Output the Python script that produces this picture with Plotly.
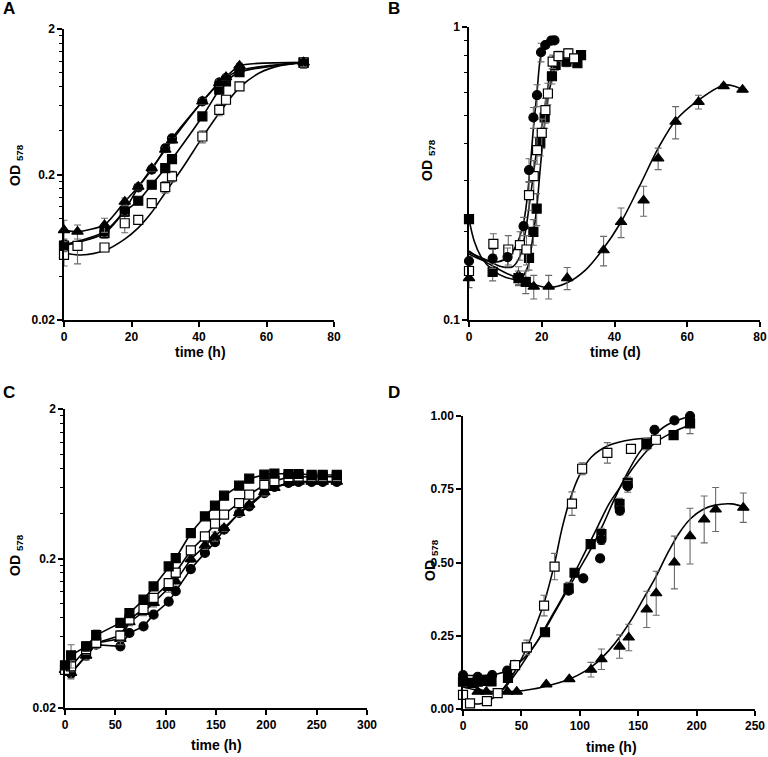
import plotly.graph_objects as go

# ---------------- Panel A (log y, time h) ----------------
A_t13 = [0, 4, 12, 18, 22, 26, 30, 32, 41, 46, 48, 52, 71]
A_t12 = [0, 12, 18, 22, 26, 30, 32, 41, 46, 48, 52, 71]
A_tri = [0.083, 0.081, 0.090, 0.130, 0.165, 0.221, 0.296, 0.343, 0.636, 0.850, 0.935, 1.12, 1.18]
A_tri_err = [0.014, 0.009, 0.010, 0.008, 0.008, 0.010, 0.012, 0.015, 0.03, 0.04, 0.04, 0.04, 0.08]
A_circ = [0.066, 0.081, 0.114, 0.163, 0.216, 0.303, 0.355, 0.636, 0.857, 0.92, 1.04, 1.18]
A_circ_err = [0.006, 0.006, 0.008, 0.008, 0.012, 0.015, 0.015, 0.03, 0.04, 0.05, 0.04, 0.08]
A_sqf = [0.065, 0.079, 0.111, 0.132, 0.170, 0.221, 0.255, 0.501, 0.765, 0.873, 1.01, 1.18]
A_sqf_err = [0.006, 0.006, 0.008, 0.006, 0.008, 0.010, 0.012, 0.02, 0.04, 0.04, 0.04, 0.08]
A_sqo = [0.056, 0.0646, 0.063, 0.0925, 0.0975, 0.127, 0.164, 0.194, 0.365, 0.557, 0.653, 0.807, 1.17]
A_sqo_err = [0.009, 0.016, 0.004, 0.013, 0.005, 0.006, 0.015, 0.016, 0.035, 0.05, 0.04, 0.03, 0.10]
A_fit_t = [0, 5, 12, 18, 22, 26, 30, 35, 41, 46, 52, 58, 64, 71]
A_fit_sqo = [0.058, 0.056, 0.060, 0.072, 0.086, 0.110, 0.150, 0.220, 0.360, 0.530, 0.790, 1.00, 1.12, 1.17]

# ---------------- Panel B (log y, time d) ----------------
B_tri_t = [0, 13.6, 17.8, 21.9, 27, 37, 41.8, 48, 52, 56.8, 63.1, 70, 75.2]
B_tri = [0.139, 0.142, 0.130, 0.130, 0.139, 0.173, 0.216, 0.256, 0.356, 0.475, 0.555, 0.628, 0.611]
B_tri_err = [0.010, 0.010, 0.012, 0.012, 0.012, 0.020, 0.025, 0.030, 0.030, 0.060, 0.030, 0.010, 0.005]
B_circ_t = [0, 6.5, 10.6, 15, 16.5, 17.7, 18.7, 19.8, 21, 22.6, 23.5]
B_circ = [0.159, 0.162, 0.164, 0.209, 0.325, 0.491, 0.585, 0.82, 0.868, 0.898, 0.90]
B_circ_err = [0.005, 0.012, 0.012, 0.015, 0.03, 0.04, 0.05, 0.06, 0.01, 0.005, 0.005]
B_sqf_t = [0, 6.5, 13.6, 15.6, 16.5, 17.7, 18.6, 19.6, 20.8, 22.8, 23.8, 26.8, 29.8, 30.8]
B_sqf = [0.221, 0.146, 0.139, 0.135, 0.163, 0.200, 0.240, 0.403, 0.491, 0.679, 0.742, 0.762, 0.752, 0.802]
B_sqf_err = [0.005, 0.010, 0.008, 0.012, 0.015, 0.020, 0.030, 0.040, 0.040, 0.04, 0.03, 0.03, 0.01, 0.01]
B_sqo_t = [0, 6.7, 10.8, 14, 15.8, 16.5, 17.8, 18.7, 20, 21, 21.7, 23, 24.6, 27.3, 28.9]
B_sqo = [0.147, 0.182, 0.174, 0.180, 0.174, 0.267, 0.310, 0.380, 0.435, 0.520, 0.593, 0.762, 0.796, 0.813, 0.782]
B_sqo_err = [0.005, 0.015, 0.020, 0.020, 0.020, 0.030, 0.040, 0.040, 0.050, 0.050, 0.050, 0.040, 0.03, 0.03, 0.01]
B_fit_tri_t = [0, 3, 6.5, 10, 14, 18, 22, 27, 32, 36.6, 41.8, 46.8, 52, 56.8, 63, 70, 73, 75.2]
B_fit_tri = [0.172, 0.162, 0.153, 0.145, 0.138, 0.132, 0.129, 0.134, 0.148, 0.173, 0.216, 0.285, 0.385, 0.480, 0.562, 0.633, 0.628, 0.611]
B_fit_circ_t = [0, 4, 8, 11, 13, 15, 16.5, 17.7, 18.7, 19.6, 20.5]
B_fit_circ = [0.168, 0.160, 0.158, 0.165, 0.180, 0.215, 0.300, 0.450, 0.600, 0.780, 0.860]
B_fit_sqo_t = [0, 5, 9, 12, 14, 15.5, 17, 18.5, 20, 21, 22, 23]
B_fit_sqo = [0.170, 0.160, 0.152, 0.152, 0.165, 0.200, 0.270, 0.370, 0.460, 0.550, 0.660, 0.750]
B_fit_sqf_t = [0, 1.5, 3.5, 6.5, 10, 14, 16, 17.5, 18.6, 19.6, 20.8, 22, 23.5]
B_fit_sqf = [0.221, 0.185, 0.163, 0.148, 0.140, 0.138, 0.150, 0.190, 0.240, 0.330, 0.470, 0.600, 0.720]

# ---------------- Panel C (log y, time h) ----------------
C_t = [0, 6, 21, 31, 55, 64, 78, 88, 103, 110, 125, 139, 149, 158, 173, 183, 198, 208, 222, 232, 245, 256, 270]
C_sqf = [0.0386, 0.045, 0.0517, 0.0615, 0.0741, 0.0863, 0.106, 0.130, 0.177, 0.201, 0.296, 0.383, 0.451,
         0.526, 0.614, 0.684, 0.727, 0.740, 0.735, 0.735, 0.726, 0.724, 0.724]
C_sqf_err = [0.002, 0.008, 0.004, 0.005, 0.005, 0.004, 0.004, 0.005, 0.006, 0.006, 0.008, 0.01, 0.01,
             0.01, 0.01, 0.01, 0.01, 0.01, 0.01, 0.01, 0.01, 0.01, 0.01]
C_sqo = [0.036, 0.038, 0.0496, 0.0545, 0.061, 0.078, 0.0919, 0.109, 0.137, 0.161, 0.227, 0.281, 0.342,
         0.393, 0.470, 0.535, 0.621, 0.660, 0.700, 0.705, 0.705, 0.705, 0.705]
C_sqo_err = [0.002, 0.003, 0.004, 0.004, 0.005, 0.005, 0.005, 0.006, 0.008, 0.008, 0.01, 0.01, 0.015,
             0.015, 0.02, 0.02, 0.02, 0.015, 0.01, 0.01, 0.01, 0.01, 0.01]
C_tri = [0.036, 0.0343, 0.0448, 0.0545, 0.058, 0.075, 0.088, 0.101, 0.127, 0.141, 0.198, 0.245, 0.281,
         0.320, 0.403, 0.458, 0.555, 0.593, 0.640, 0.653, 0.653, 0.653, 0.653]
C_tri_err = [0.002, 0.003, 0.003, 0.004, 0.005, 0.004, 0.005, 0.006, 0.008, 0.008, 0.01, 0.015, 0.02,
             0.015, 0.02, 0.02, 0.03, 0.02, 0.01, 0.01, 0.01, 0.01, 0.01]
C_circ = [0.036, 0.034, 0.0448, 0.053, 0.0517, 0.0635, 0.0703, 0.0842, 0.103, 0.121, 0.170, 0.218, 0.257,
          0.312, 0.403, 0.447, 0.548, 0.602, 0.640, 0.650, 0.650, 0.650, 0.650]

# ---------------- Panel D (linear y, time h) ----------------
D_sqo_t = [0, 6, 20.5, 29.7, 44.6, 54.7, 69.4, 78.4, 93.3, 102, 123.6, 143.8, 165.2]
D_sqo = [0.048, 0.019, 0.027, 0.054, 0.150, 0.210, 0.353, 0.486, 0.701, 0.820, 0.874, 0.888, 0.919]
D_sqo_err = [0.0, 0.0, 0.0, 0.0, 0.01, 0.025, 0.035, 0.045, 0.04, 0.02, 0.035, 0.01, 0.01]
D_circ_t = [0, 12.6, 25, 37.9, 44, 90.4, 103, 117.4, 118.5, 134.3, 141, 164, 181, 194.4]
D_circ = [0.116, 0.110, 0.116, 0.131, 0.151, 0.404, 0.446, 0.514, 0.577, 0.677, 0.760, 0.953, 0.985, 1.0]
D_circ_err = [0.0, 0.0, 0.0, 0.0, 0.0, 0.01, 0.01, 0.01, 0.015, 0.015, 0.02, 0.0, 0.0, 0.0]
D_sqf_t = [0, 7.6, 12.6, 17.4, 24.4, 38.5, 70.2, 90.4, 95.5, 109.3, 118.5, 134, 141, 157, 180.3, 194.4]
D_sqf = [0.093, 0.089, 0.093, 0.096, 0.094, 0.106, 0.262, 0.412, 0.465, 0.563, 0.597, 0.699, 0.772, 0.904, 0.935, 0.975]
D_sqf_err = [0.0, 0.0, 0.0, 0.0, 0.0, 0.0, 0.01, 0.02, 0.01, 0.01, 0.02, 0.02, 0.02, 0.02, 0.015, 0.035]
D_tri_t = [12.6, 20, 38, 46, 71.3, 91, 109.6, 118.5, 134, 141.9, 157.3, 165.4, 181, 194.4, 206.5, 216.3, 240]
D_tri = [0.059, 0.059, 0.059, 0.059, 0.084, 0.102, 0.134, 0.170, 0.213, 0.244, 0.340, 0.395, 0.500, 0.590, 0.647, 0.681, 0.687]
D_tri_err = [0.0, 0.0, 0.0, 0.0, 0.0, 0.0, 0.025, 0.035, 0.04, 0.045, 0.062, 0.075, 0.09, 0.095, 0.08, 0.075, 0.05]
D_fit_sqo_t = [0, 5, 10, 15, 20, 30, 40, 50, 60, 70, 78, 85, 92, 100, 110, 125, 145, 165]
D_fit_sqo = [0.060, 0.030, 0.018, 0.018, 0.025, 0.050, 0.100, 0.170, 0.260, 0.370, 0.490, 0.620, 0.720,
             0.800, 0.860, 0.900, 0.920, 0.925]
D_fit_circ_t = [0, 20, 30, 40, 50, 60, 70, 80, 90, 100, 110, 120, 130, 140, 150, 160, 175, 195]
D_fit_circ = [0.115, 0.115, 0.120, 0.135, 0.165, 0.210, 0.270, 0.340, 0.410, 0.480, 0.550, 0.630, 0.720,
              0.800, 0.870, 0.920, 0.970, 1.000]
D_fit_sqf_t = [0, 10, 20, 28, 35, 45, 55, 65, 75, 85, 95, 105, 115, 125, 135, 145, 155, 165, 180, 195]
D_fit_sqf = [0.095, 0.075, 0.058, 0.052, 0.070, 0.120, 0.180, 0.240, 0.310, 0.380, 0.460, 0.540, 0.620,
             0.700, 0.760, 0.820, 0.870, 0.910, 0.945, 0.970]
D_fit_tri_t = [0, 10, 20, 30, 45, 60, 75, 90, 105, 115, 125, 135, 145, 155, 165, 175, 185, 195, 205, 215, 230, 240]
D_fit_tri = [0.075, 0.066, 0.061, 0.059, 0.060, 0.068, 0.082, 0.100, 0.130, 0.160, 0.200, 0.250, 0.310,
             0.380, 0.450, 0.530, 0.600, 0.650, 0.680, 0.695, 0.700, 0.690]

FONT = "Liberation Sans, Arial, sans-serif"
ERRC = "#6a6a6a"

fig = go.Figure()


def add_line(x, y, ax, shape="spline", smooth=1.0):
    fig.add_trace(go.Scatter(x=x, y=y, mode="lines", xaxis="x" + ax, yaxis="y" + ax,
                             line=dict(color="black", width=1.6, shape=shape,
                                       smoothing=smooth if shape == "spline" else None),
                             hoverinfo="skip", cliponaxis=False, showlegend=False))


def add_pts(x, y, ax, kind, err=None, line=None, size=9):
    sym = {"tri": "triangle-up", "circ": "circle", "sqf": "square", "sqo": "square"}[kind]
    fill = "white" if kind == "sqo" else "black"
    if kind == "tri":
        size += 1
    kw = {}
    if err is not None:
        kw["error_y"] = dict(type="data", array=err, visible=True, color=ERRC, thickness=1.1, width=3.5)
    mode = "markers" if line is None else "lines+markers"
    fig.add_trace(go.Scatter(x=x, y=y, mode=mode, xaxis="x" + ax, yaxis="y" + ax,
                             marker=dict(symbol=sym, size=size, color=fill,
                                         line=dict(color="black", width=1.2)),
                             line=line if line else None,
                             cliponaxis=False, showlegend=False, **kw))


# Panel A
ax = ""
add_line(A_fit_t, A_fit_sqo, ax)
add_line(A_t13, A_tri, ax, smooth=0.6)
add_line(A_t12, A_circ, ax, smooth=0.8)
add_line(A_t12, A_sqf, ax, smooth=0.8)
add_pts(A_t13, A_sqo, ax, "sqo", A_sqo_err)
add_pts(A_t12, A_sqf, ax, "sqf", A_sqf_err)
add_pts(A_t12, A_circ, ax, "circ", A_circ_err)
add_pts(A_t13, A_tri, ax, "tri", A_tri_err)

# Panel B
ax = "2"
add_line(B_fit_tri_t, B_fit_tri, ax)
add_line(B_fit_sqf_t, B_fit_sqf, ax)
add_line(B_fit_sqo_t, B_fit_sqo, ax)
add_line(B_fit_circ_t, B_fit_circ, ax)
add_pts(B_tri_t, B_tri, ax, "tri", B_tri_err)
add_pts(B_sqf_t, B_sqf, ax, "sqf", B_sqf_err)
add_pts(B_sqo_t, B_sqo, ax, "sqo", B_sqo_err)
add_pts(B_circ_t, B_circ, ax, "circ", B_circ_err)

# Panel C
ax = "3"
lk = dict(color="black", width=1.6)
add_pts(C_t, C_circ, ax, "circ", None, lk)
add_pts(C_t, C_tri, ax, "tri", C_tri_err, lk)
add_pts(C_t, C_sqo, ax, "sqo", C_sqo_err, lk)
add_pts(C_t, C_sqf, ax, "sqf", C_sqf_err, lk)

# Panel D
ax = "4"
add_line(D_fit_tri_t, D_fit_tri, ax)
add_line(D_fit_sqf_t, D_fit_sqf, ax)
add_line(D_fit_circ_t, D_fit_circ, ax)
add_line(D_fit_sqo_t, D_fit_sqo, ax)
add_pts(D_tri_t, D_tri, ax, "tri", D_tri_err)
add_pts(D_sqf_t, D_sqf, ax, "sqf", D_sqf_err)
add_pts(D_circ_t, D_circ, ax, "circ", D_circ_err)
add_pts(D_sqo_t, D_sqo, ax, "sqo", D_sqo_err)

W, H = 768, 757


def xd(a, b):
    return [a / W, b / W]


def yd(top, bottom):
    return [1 - bottom / H, 1 - top / H]


tickfont = dict(family=FONT, size=12, color="black", weight="bold")
base = dict(showline=True, linecolor="black", linewidth=1.5, ticks="outside", ticklen=5,
            tickwidth=1.5, tickcolor="black", showgrid=False, zeroline=False, tickfont=tickfont,
            automargin=False, ticklabeloverflow="allow")

minor_log = [0.04, 0.06, 0.08, 0.1, 0.12, 0.14, 0.16, 0.18, 0.4, 0.6, 0.8, 1.0, 1.2, 1.4, 1.6, 1.8]
minor_logB = [0.2, 0.3, 0.4, 0.5, 0.6, 0.7, 0.8, 0.9]

fig.update_layout(
    width=W, height=H, margin=dict(l=0, r=0, t=0, b=0, pad=0, autoexpand=False),
    paper_bgcolor="white", plot_bgcolor="white",
    xaxis=dict(base, domain=xd(64, 334), range=[0, 80], tickvals=[0, 20, 40, 60, 80], anchor="y"),
    yaxis=dict(base, domain=yd(29, 320), type="log", range=[-1.69897, 0.30103],
               tickvals=[0.02, 0.2, 2], ticktext=["0.02", "0.2", "2"], anchor="x",
               minor=dict(tickvals=minor_log, ticks="outside", ticklen=3, tickcolor="black", tickwidth=1)),
    xaxis2=dict(base, domain=xd(469, 760), range=[0, 80], tickvals=[0, 20, 40, 60, 80], anchor="y2"),
    yaxis2=dict(base, domain=yd(27, 320), type="log", range=[-1, 0],
                tickvals=[0.1, 1], ticktext=["0.1", "1"], anchor="x2",
                minor=dict(tickvals=minor_logB, ticks="outside", ticklen=3, tickcolor="black", tickwidth=1)),
    xaxis3=dict(base, domain=xd(65, 367), range=[0, 300], tickvals=[0, 50, 100, 150, 200, 250, 300], anchor="y3"),
    yaxis3=dict(base, domain=yd(409, 708), type="log", range=[-1.69897, 0.30103],
                tickvals=[0.02, 0.2, 2], ticktext=["0.02", "0.2", "2"], anchor="x3",
                minor=dict(tickvals=minor_log, ticks="outside", ticklen=3, tickcolor="black", tickwidth=1)),
    xaxis4=dict(base, domain=xd(463, 755), range=[0, 250], tickvals=[0, 50, 100, 150, 200, 250], anchor="y4"),
    yaxis4=dict(base, domain=yd(416, 709), range=[0, 1.0],
                tickvals=[0, 0.25, 0.5, 0.75, 1.0], ticktext=["0.00", "0.25", "0.50", "0.75", "1.00"], anchor="x4"),
)

title_font = dict(family=FONT, size=14, color="black", weight="bold")
letter_font = dict(family=FONT, size=17, color="black", weight="bold")
ann = []
for txt, x, y in [("A", 9, 9), ("B", 394, 9), ("C", 9, 392), ("D", 394, 392)]:
    ann.append(dict(text=txt, x=x / W, y=1 - y / H, xref="paper", yref="paper", showarrow=False,
                    font=letter_font, xanchor="center", yanchor="middle"))
for txt, x, y in [("time (h)", 200, 352), ("time (d)", 615, 352), ("time (h)", 216, 745), ("time (h)", 611, 747)]:
    ann.append(dict(text=txt, x=x / W, y=1 - y / H, xref="paper", yref="paper", showarrow=False,
                    font=title_font, xanchor="center", yanchor="middle"))
for x, y in [(16, 165), (428, 160), (16, 555), (431, 560)]:
    ann.append(dict(text="OD <sub>578</sub>", x=x / W, y=1 - y / H, xref="paper", yref="paper",
                    showarrow=False, textangle=-90, font=title_font, xanchor="center", yanchor="middle"))
fig.update_layout(annotations=ann)

fig.write_html("out.html", config={"displayModeBar": False},
               post_script="document.body.style.margin='0';document.body.style.overflow='hidden';")
